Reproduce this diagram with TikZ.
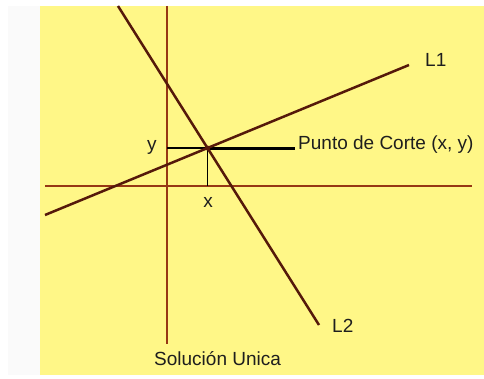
\documentclass[tikz,border=0pt]{standalone}
\usepackage{fontspec}
\setmainfont{Liberation Sans}
\usetikzlibrary{calc}
\definecolor{fondo}{RGB}{255,247,135}
\definecolor{margen}{RGB}{250,250,250}
\definecolor{eje}{RGB}{150,55,20}
\definecolor{recta}{RGB}{85,25,10}
\definecolor{texto}{RGB}{30,30,30}

\begin{document}
\begin{tikzpicture}[x=1pt,y=-1pt,
    ejes/.style={eje,line width=1.3pt},
    rectas/.style={recta,line width=2.5pt},
    guia/.style={black,line width=1.3pt},
    etiq/.style={anchor=base west,inner sep=0pt,text=texto,font=\fontsize{19}{21}\selectfont}]
      % fondo
      \fill[white] (0,0) rectangle (484,379);
      \fill[margen] (8,6) rectangle (40,375);
      \fill[fondo] (40,6) rectangle (484,375);
      \useasboundingbox (0,0) rectangle (484,379);
      % ejes
      \coordinate (ejeYa) at (167,6);
      \coordinate (ejeYb) at (167,344);
      \coordinate (ejeXa) at (45,186);
      \coordinate (ejeXb) at (472,186);
      \draw[ejes] (ejeYa) -- (ejeYb);
      \draw[ejes] (ejeXa) -- (ejeXb);
      % rectas
      \coordinate (l1a) at (45,215);
      \coordinate (l1b) at (409,65);
      \coordinate (l2a) at (118,6);
      \coordinate (l2b) at (319,325);
      \coordinate (corte) at (intersection of l1a--l1b and l2a--l2b);
      \coordinate (corteY) at (ejeYa |- corte);
      \coordinate (corteX) at (corte |- ejeXa);
      \coordinate (flecha) at (295,0 |- corte);
      \draw[guia] (corteY) -- (corte) -- (corteX);
      \draw[black,line width=3pt] (corte) -- (flecha);
      \draw[rectas] (l1a) -- (l1b);
      \draw[rectas] (l2a) -- (l2b);
      \fill[recta] (corte) circle (2.5pt);
      % textos
      \node[etiq] (txtL1) at (425,67) {L1};
      \node[etiq] (txtL2) at (332,332) {L2};
      \node[etiq] (txtY) at (147,151) {y};
      \node[etiq,anchor=base] (txtX) at (208,208) {x};
      \node[etiq] (txtCorte) at (298,150) {Punto de Corte (x, y)};
      \node[etiq] (txtSol) at (154,365) {Solución Unica};
    \end{tikzpicture}
\end{document}
